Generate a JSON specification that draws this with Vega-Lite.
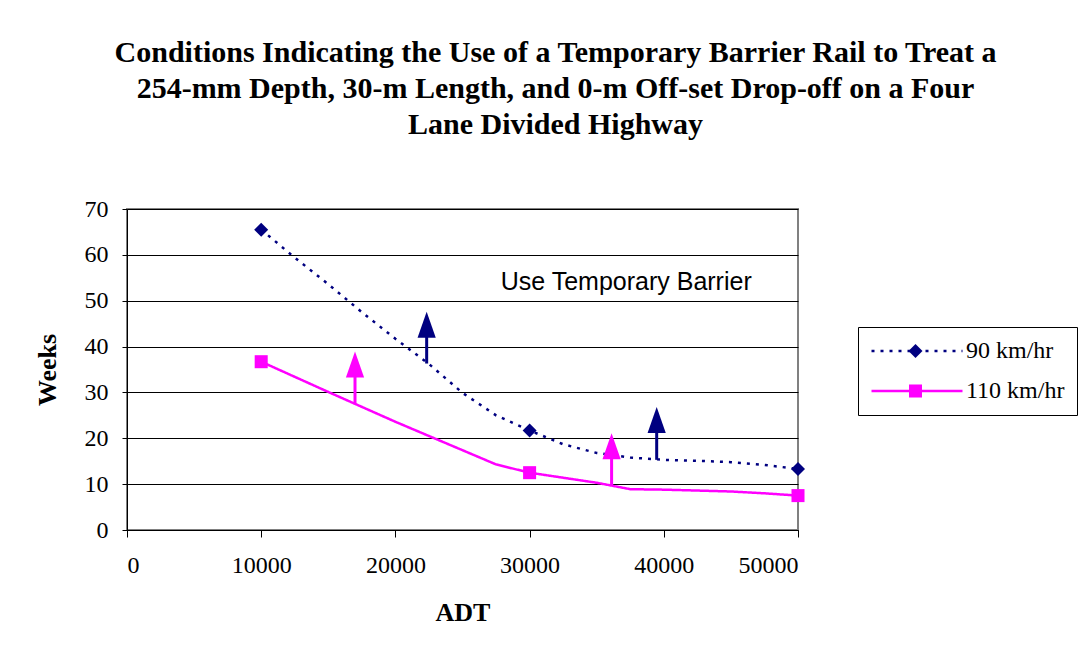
{
  "$schema": "https://vega.github.io/schema/vega-lite/v6.json",
  "width": 671,
  "height": 321,
  "autosize": {"type": "none"},
  "padding": {"left": 127, "top": 209, "right": 286, "bottom": 132},
  "background": "white",
  "title": {
    "text": ["Conditions Indicating the Use of a Temporary Barrier Rail to Treat a", "254-mm Depth, 30-m Length, and 0-m Off-set Drop-off on a Four", "Lane Divided Highway"],
    "font": "Liberation Serif",
    "fontSize": 30,
    "fontWeight": "bold",
    "color": "black",
    "anchor": "middle",
    "frame": "group",
    "dx": 93,
    "offset": 57,
    "lineHeight": 36
  },
  "datasets": {
    "lines": [
      {"series": "90 km/hr", "adt": 10000, "weeks": 65.5},
      {"series": "90 km/hr", "adt": 12500, "weeks": 59.4},
      {"series": "90 km/hr", "adt": 15000, "weeks": 53.6},
      {"series": "90 km/hr", "adt": 17500, "weeks": 47.5},
      {"series": "90 km/hr", "adt": 20000, "weeks": 41.7},
      {"series": "90 km/hr", "adt": 22500, "weeks": 36.2},
      {"series": "90 km/hr", "adt": 25000, "weeks": 29.9},
      {"series": "90 km/hr", "adt": 27500, "weeks": 25.0},
      {"series": "90 km/hr", "adt": 30000, "weeks": 21.7},
      {"series": "90 km/hr", "adt": 32500, "weeks": 18.7},
      {"series": "90 km/hr", "adt": 35000, "weeks": 16.8},
      {"series": "90 km/hr", "adt": 37500, "weeks": 15.8},
      {"series": "90 km/hr", "adt": 40000, "weeks": 15.3},
      {"series": "90 km/hr", "adt": 42500, "weeks": 15.1},
      {"series": "90 km/hr", "adt": 45000, "weeks": 14.8},
      {"series": "90 km/hr", "adt": 47500, "weeks": 14.2},
      {"series": "90 km/hr", "adt": 50000, "weeks": 13.3},
      {"series": "110 km/hr", "adt": 10000, "weeks": 36.7},
      {"series": "110 km/hr", "adt": 12500, "weeks": 33.4},
      {"series": "110 km/hr", "adt": 15000, "weeks": 30.1},
      {"series": "110 km/hr", "adt": 17000, "weeks": 27.5},
      {"series": "110 km/hr", "adt": 20000, "weeks": 23.6},
      {"series": "110 km/hr", "adt": 22500, "weeks": 20.5},
      {"series": "110 km/hr", "adt": 25000, "weeks": 17.4},
      {"series": "110 km/hr", "adt": 27500, "weeks": 14.3},
      {"series": "110 km/hr", "adt": 30000, "weeks": 12.5},
      {"series": "110 km/hr", "adt": 32500, "weeks": 11.4},
      {"series": "110 km/hr", "adt": 35000, "weeks": 10.3},
      {"series": "110 km/hr", "adt": 37500, "weeks": 8.9},
      {"series": "110 km/hr", "adt": 40000, "weeks": 8.8},
      {"series": "110 km/hr", "adt": 42500, "weeks": 8.6},
      {"series": "110 km/hr", "adt": 45000, "weeks": 8.4},
      {"series": "110 km/hr", "adt": 47500, "weeks": 8.0},
      {"series": "110 km/hr", "adt": 50000, "weeks": 7.5}
    ],
    "markers": [
      {"series": "90 km/hr", "adt": 10000, "weeks": 65.5},
      {"series": "90 km/hr", "adt": 30000, "weeks": 21.7},
      {"series": "90 km/hr", "adt": 50000, "weeks": 13.3},
      {"series": "110 km/hr", "adt": 10000, "weeks": 36.7},
      {"series": "110 km/hr", "adt": 30000, "weeks": 12.5},
      {"series": "110 km/hr", "adt": 50000, "weeks": 7.5}
    ],
    "arrows": [
      {"series": "90 km/hr", "adt": 22330, "base": 36.3, "stem": 44.6, "tip": 47.6},
      {"series": "110 km/hr", "adt": 16990, "base": 27.5, "stem": 35.9, "tip": 38.9},
      {"series": "110 km/hr", "adt": 36110, "base": 9.8, "stem": 18.1, "tip": 21.1},
      {"series": "90 km/hr", "adt": 39470, "base": 15.3, "stem": 23.8, "tip": 26.8}
    ],
    "notes": [
      {"adt": 37200, "weeks": 52.3, "label": "Use Temporary Barrier"}
    ]
  },
  "encoding": {
    "x": {
      "field": "adt",
      "type": "quantitative",
      "scale": {"domain": [0, 50000], "nice": false, "zero": true},
      "axis": {
        "title": "ADT",
        "values": [0, 10000, 20000, 30000, 40000, 50000],
        "format": "d",
        "grid": false,
        "tickSize": 7,
        "labelPadding": 16,
        "titlePadding": 22
      }
    },
    "y": {
      "field": "weeks",
      "type": "quantitative",
      "scale": {"domain": [0, 70], "nice": false},
      "axis": {
        "title": "Weeks",
        "values": [0, 10, 20, 30, 40, 50, 60, 70],
        "grid": true,
        "tickSize": 5,
        "labelPadding": 14,
        "titlePadding": 24
      }
    }
  },
  "layer": [
    {
      "data": {"name": "lines"},
      "mark": {"type": "line", "strokeCap": "butt", "strokeWidth": 2.5},
      "encoding": {
        "stroke": {"field": "series", "type": "nominal", "sort": "descending", "scale": {"range": ["#000080", "#FF00FF"]},
          "legend": {"title": null, "orient": "none", "legendX": 731, "legendY": 118, "symbolType": "M-6.5,0L6.5,0", "symbolSize": 196, "symbolStrokeWidth": 2.5, "symbolOffset": 35, "labelOffset": 37, "padding": 12, "strokeColor": "black", "zindex": 1}},
        "strokeDash": {"field": "series", "type": "nominal", "sort": "descending", "scale": {"range": [[3, 6], [1, 0]]},
          "legend": {"title": null, "orient": "none", "legendX": 731, "legendY": 118, "symbolType": "M-6.5,0L6.5,0", "symbolSize": 196, "symbolStrokeWidth": 2.5, "symbolOffset": 35, "labelOffset": 37, "padding": 12, "strokeColor": "black", "zindex": 1}}
      }
    },
    {
      "data": {"name": "arrows"},
      "transform": [{"filter": "datum.series === '90 km/hr'"}],
      "mark": {"type": "rule", "strokeWidth": 3, "color": "#000080"},
      "encoding": {
        "y": {"field": "base", "type": "quantitative"},
        "y2": {"field": "stem"}
      }
    },
    {
      "data": {"name": "arrows"},
      "transform": [{"filter": "datum.series === '110 km/hr'"}],
      "mark": {"type": "rule", "strokeWidth": 3, "color": "#FF00FF"},
      "encoding": {
        "y": {"field": "base", "type": "quantitative"},
        "y2": {"field": "stem"}
      }
    },
    {
      "data": {"name": "arrows"},
      "transform": [{"filter": "datum.series === '90 km/hr'"}],
      "mark": {"type": "point", "filled": true, "opacity": 1, "size": 676, "shape": "M0,0L0.7,2L-0.7,2Z", "strokeWidth": 0, "color": "#000080"},
      "encoding": {
        "y": {"field": "tip", "type": "quantitative"}
      }
    },
    {
      "data": {"name": "arrows"},
      "transform": [{"filter": "datum.series === '110 km/hr'"}],
      "mark": {"type": "point", "filled": true, "opacity": 1, "size": 676, "shape": "M0,0L0.7,2L-0.7,2Z", "strokeWidth": 0, "color": "#FF00FF"},
      "encoding": {
        "y": {"field": "tip", "type": "quantitative"}
      }
    },
    {
      "data": {"name": "markers"},
      "mark": {"type": "point", "filled": true, "opacity": 1, "size": 196, "strokeWidth": 0},
      "encoding": {
        "color": {"field": "series", "type": "nominal", "scale": {"domain": ["90 km/hr", "110 km/hr"], "range": ["#000080", "#FF00FF"]},
          "legend": {"title": null, "orient": "none", "legendX": 764.5, "legendY": 118, "padding": 12, "labelExpr": "''", "labelOpacity": 0, "symbolStrokeWidth": 0, "zindex": 5}},
        "shape": {"field": "series", "type": "nominal", "scale": {"domain": ["90 km/hr", "110 km/hr"], "range": ["M-1,0L0,-1L1,0L0,1Z", "M-0.93,-0.93L0.93,-0.93L0.93,0.93L-0.93,0.93Z"]},
          "legend": {"title": null, "orient": "none", "legendX": 764.5, "legendY": 118, "padding": 12, "labelExpr": "''", "labelOpacity": 0, "symbolStrokeWidth": 0, "zindex": 5}}
      }
    },
    {
      "data": {"name": "notes"},
      "mark": {"type": "text", "font": "Liberation Sans", "fontSize": 25, "align": "center", "baseline": "alphabetic", "color": "black"},
      "encoding": {
        "text": {"field": "label"}
      }
    }
  ],
  "config": {
    "view": {"stroke": "#808080", "strokeWidth": 2},
    "axis": {
      "labelFont": "Liberation Serif",
      "labelFontSize": 24,
      "labelColor": "black",
      "titleFont": "Liberation Serif",
      "titleFontSize": 26,
      "titleFontWeight": "bold",
      "titleColor": "black",
      "domainColor": "black",
      "domainWidth": 1,
      "tickColor": "black",
      "tickWidth": 1,
      "gridColor": "black",
      "gridWidth": 1,
      "gridOpacity": 1
    },
    "legend": {
      "rowPadding": 16,
      "symbolSize": 196,
      "symbolOpacity": 1,
      "labelFont": "Liberation Serif",
      "labelFontSize": 24,
      "labelColor": "black",
      "labelLimit": 300
    }
  }
}
